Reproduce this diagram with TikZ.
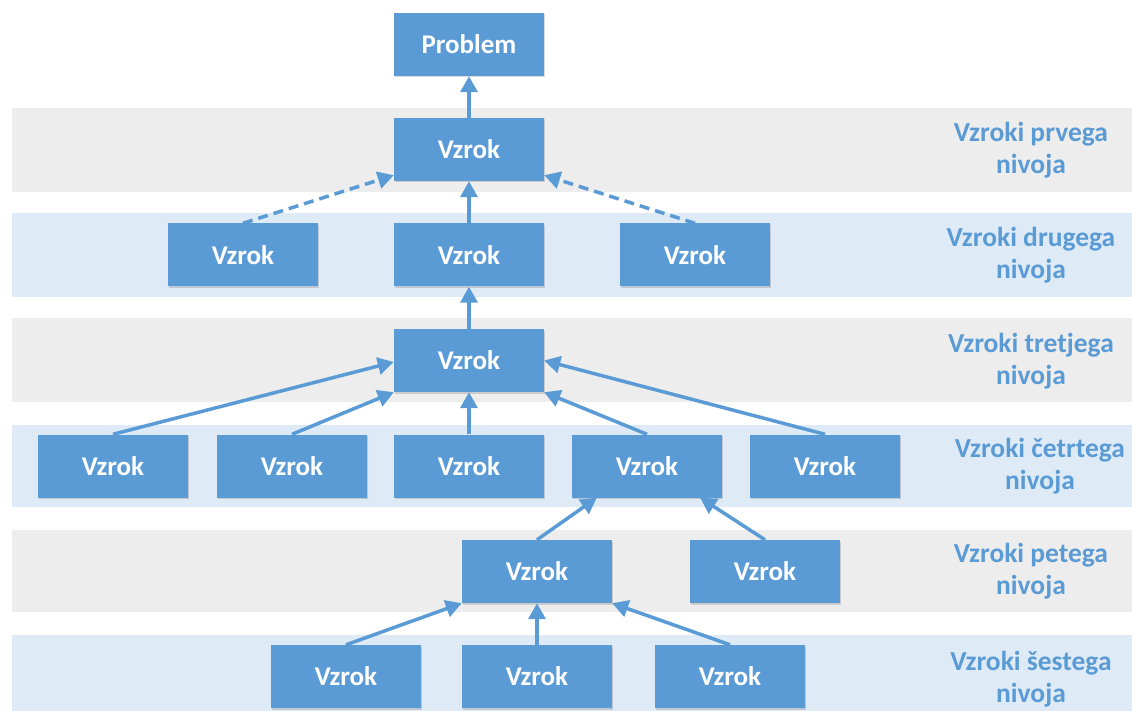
\documentclass[tikz,border=0pt]{standalone}
\usepackage{fontspec}
\setmainfont{Carlito}
\usetikzlibrary{arrows.meta,shadows}
\definecolor{boxblue}{HTML}{5B9BD5}
\definecolor{bandgray}{HTML}{EDEDED}
\definecolor{bandblue}{HTML}{DEEBF7}
\begin{document}
\begin{tikzpicture}[x=1pt,y=-1pt,
  cause/.style={fill=boxblue, text=white, font=\bfseries\fontsize{27}{30}\selectfont,
    minimum width=150pt, minimum height=63pt, inner sep=0pt,
    drop shadow={shadow xshift=1pt, shadow yshift=-1.5pt, opacity=0.14, fill=black}},
  link/.style={draw=boxblue, line width=3.5pt, -{Triangle[length=16pt,width=17pt]}},
  weak/.style={link, dash pattern=on 10pt off 6pt},
  level/.style={text=boxblue, font=\bfseries\fontsize{27.5}{32}\selectfont, align=center}]
\useasboundingbox (0,0) rectangle (1132,711);

% level bands
\fill[bandgray] (12,108) rectangle (1132,192);
\fill[bandblue] (12,213) rectangle (1132,297);
\fill[bandgray] (12,318) rectangle (1132,402);
\fill[bandblue] (12,425) rectangle (1132,507);
\fill[bandgray] (12,530) rectangle (1132,612);
\fill[bandblue] (12,635) rectangle (1132,711);

% band labels
\node[level] (t1) at (1031,150) {Vzroki prvega\\nivoja};
\node[level] (t2) at (1031,255) {Vzroki drugega\\nivoja};
\node[level] (t3) at (1031,361) {Vzroki tretjega\\nivoja};
\node[level] (t4) at (1040,466) {Vzroki četrtega\\nivoja};
\node[level] (t5) at (1031,571) {Vzroki petega\\nivoja};
\node[level] (t6) at (1031,679) {Vzroki šestega\\nivoja};

% causes
\node[cause] (p)   at (469,44.5)  {Problem};
\node[cause] (a)   at (469,149.5) {Vzrok};
\node[cause] (b1)  at (243,255)   {Vzrok};
\node[cause] (b2)  at (469,255)   {Vzrok};
\node[cause] (b3)  at (695,255)   {Vzrok};
\node[cause] (c)   at (469,360.5) {Vzrok};
\node[cause] (d1)  at (113,466)   {Vzrok};
\node[cause] (d2)  at (292,466)   {Vzrok};
\node[cause] (d3)  at (469,466)   {Vzrok};
\node[cause] (d4)  at (647,466)   {Vzrok};
\node[cause] (d5)  at (825,466)   {Vzrok};
\node[cause] (e1)  at (537,571.5) {Vzrok};
\node[cause] (e2)  at (765,571.5) {Vzrok};
\node[cause] (f1)  at (346,676.5) {Vzrok};
\node[cause] (f2)  at (537,676.5) {Vzrok};
\node[cause] (f3)  at (730,676.5) {Vzrok};

% connectors
\draw[link] (a.north) -- (p.south);
\draw[link] (b2.north) -- (a.south);
\draw[weak] (b1.north) -- ([yshift=6pt]a.south west);
\draw[weak] (b3.north) -- ([yshift=6pt]a.south east);
\draw[link] (c.north) -- (b2.south);
\draw[link] (d1.north) -- ([yshift=-1.5pt]c.west);
\draw[link] (d2.north) -- (c.south west);
\draw[link] (d3.north) -- (c.south);
\draw[link] (d4.north) -- (c.south east);
\draw[link] (d5.north) -- (c.east);
\draw[link] (e1.north) -- ([xshift=25pt]d4.south west);
\draw[link] (e2.north) -- ([xshift=-22pt]d4.south east);
\draw[link] (f1.north) -- (e1.south west);
\draw[link] (f2.north) -- (e1.south);
\draw[link] (f3.north) -- (e1.south east);
\end{tikzpicture}
\end{document}
